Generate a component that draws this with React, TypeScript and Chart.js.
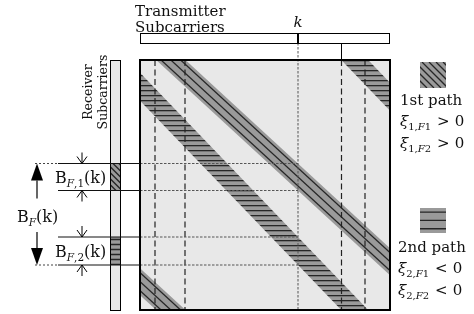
import React, { useEffect, useRef } from "react";
import { Chart, registerables } from "chart.js";

Chart.register(...registerables);

// ---------------- data ----------------
const N_SUBCARRIERS = 250; // transmitter / receiver subcarrier index range
const K_INDEX = 158; // transmitter subcarrier k
const PATH_LABELS = ["1st path", "2nd path"];
const PATH_SLOPES = [0.92, 1.04]; // receiver index shift per transmitter index
const PATH_CENTER_AT_K = [117, 191]; // receiver index at band centre for subcarrier k
const PATH_HALF_SPAN = [13.5, 14]; // half of B_F,i(k)
const PATH1_HATCH_OFFSETS = [-9, 0, 9];
const WRAP_SHIFTS = [-250, 0, 250]; // cyclic wrap on the receiver axis
const EDGE_MARKERS_TX = [15, 45, 201.5, 225]; // dashed transmitter indices
const XI_SUBSCRIPTS = [
  ["1,", "1"],
  ["1,", "2"],
  ["2,", "1"],
  ["2,", "2"],
];
const XI_RELATIONS = [">", ">", "<", "<"];
const U_EXTENT = [-10, 260];

// ---------------- styles ----------------
const SERIF = '"DejaVu Serif", serif';
const LIGHT = "#e8e8e8";
const BAND_GRAY = "#9a9a9a";
const HATCH = "#262626";

const F = (size: number, italic = false) => `${italic ? "italic " : ""}${size}px ${SERIF}`;

type Run = { t: string; f: string; dy?: number; dx?: number };
function drawRuns(ctx: CanvasRenderingContext2D, runs: Run[], x: number, y: number) {
  let cx = x;
  for (const r of runs) {
    cx += r.dx || 0;
    ctx.font = r.f;
    ctx.fillText(r.t, cx, y + (r.dy || 0));
    cx += ctx.measureText(r.t).width;
  }
  return cx;
}

function lineAt(path: number, offset: number, shift: number) {
  return U_EXTENT.map((u) => ({
    x: u,
    y: PATH_CENTER_AT_K[path] + PATH_SLOPES[path] * (u - K_INDEX) + offset + shift,
  }));
}

function hatchRect(
  ctx: CanvasRenderingContext2D,
  x: number,
  y: number,
  w: number,
  h: number,
  kind: "diag" | "horiz",
  step: number
) {
  ctx.save();
  ctx.beginPath();
  ctx.rect(x, y, w, h);
  ctx.clip();
  ctx.fillStyle = BAND_GRAY;
  ctx.fillRect(x, y, w, h);
  ctx.strokeStyle = HATCH;
  ctx.lineWidth = 1.3;
  ctx.beginPath();
  if (kind === "diag") {
    for (let d = -h; d < w + h; d += step) {
      ctx.moveTo(x + d, y);
      ctx.lineTo(x + d + h, y + h);
    }
  } else {
    for (let yy = y + step / 2; yy < y + h; yy += step) {
      ctx.moveTo(x, yy);
      ctx.lineTo(x + w, yy);
    }
  }
  ctx.stroke();
  ctx.restore();
}

function line(ctx: CanvasRenderingContext2D, x1: number, y1: number, x2: number, y2: number) {
  ctx.beginPath();
  ctx.moveTo(x1, y1);
  ctx.lineTo(x2, y2);
  ctx.stroke();
}

const diagramPlugin = {
  id: "diagram",
  beforeDatasetsDraw(chart: any) {
    const { ctx, chartArea: a } = chart;
    ctx.save();
    ctx.fillStyle = LIGHT;
    ctx.fillRect(a.left, a.top, a.right - a.left, a.bottom - a.top);
    ctx.restore();
  },
  afterDatasetsDraw(chart: any) {
    const { ctx, chartArea: a } = chart;
    const X = (u: number) => chart.scales.x.getPixelForValue(u);
    const Y = (v: number) => chart.scales.y.getPixelForValue(v);
    const levels = [
      PATH_CENTER_AT_K[0] - PATH_HALF_SPAN[0],
      PATH_CENTER_AT_K[0] + PATH_HALF_SPAN[0],
      PATH_CENTER_AT_K[1] - PATH_HALF_SPAN[1],
      PATH_CENTER_AT_K[1] + PATH_HALF_SPAN[1],
    ].map(Y);
    const xk = X(K_INDEX);
    const barTop = a.top - 27;
    const barBot = a.top - 17;
    const rxL = a.left - 30;
    const rxR = a.left - 20;

    ctx.save();
    // dashed transmitter markers
    ctx.strokeStyle = "#222";
    ctx.lineWidth = 1.2;
    ctx.setLineDash([6, 3.5]);
    for (const u of EDGE_MARKERS_TX) line(ctx, X(u), a.top, X(u), a.bottom);
    // k line
    ctx.strokeStyle = "#555";
    ctx.lineWidth = 1;
    ctx.setLineDash([2.5, 1.5]);
    line(ctx, xk, barBot, xk, a.bottom);
    // horizontal level lines inside the square
    for (const y of levels) line(ctx, a.left, y, xk, y);
    ctx.setLineDash([]);

    // square border
    ctx.strokeStyle = "#000";
    ctx.lineWidth = 2;
    ctx.strokeRect(a.left, a.top, a.right - a.left, a.bottom - a.top);

    // transmitter bar
    ctx.fillStyle = "#fff";
    ctx.fillRect(X(0), barTop, X(N_SUBCARRIERS) - X(0), barBot - barTop);
    ctx.lineWidth = 1;
    ctx.strokeRect(X(0) + 0.5, barTop + 0.5, X(N_SUBCARRIERS) - X(0) - 1, barBot - barTop);
    ctx.lineWidth = 2;
    line(ctx, xk, barTop, xk, barBot);
    ctx.lineWidth = 1;
    line(ctx, X(EDGE_MARKERS_TX[2]), barBot, X(EDGE_MARKERS_TX[2]), a.top);

    // receiver bar
    ctx.fillStyle = LIGHT;
    ctx.fillRect(rxL, Y(0), rxR - rxL, Y(N_SUBCARRIERS) - Y(0));
    hatchRect(ctx, rxL, levels[0], rxR - rxL, levels[1] - levels[0], "diag", 6);
    hatchRect(ctx, rxL, levels[2], rxR - rxL, levels[3] - levels[2], "horiz", 5);
    ctx.strokeStyle = "#000";
    ctx.lineWidth = 1;
    ctx.strokeRect(rxL + 0.5, Y(0) + 0.5, rxR - rxL, Y(N_SUBCARRIERS) - Y(0));

    // horizontal level lines outside
    ctx.strokeStyle = "#111";
    ctx.lineWidth = 1;
    for (const y of levels) line(ctx, 58, y, a.left, y);
    ctx.setLineDash([2, 2]);
    ctx.strokeStyle = "#444";
    line(ctx, 35, levels[0], 58, levels[0]);
    line(ctx, 35, levels[3], 58, levels[3]);
    ctx.setLineDash([]);

    // small bracket arrows
    ctx.strokeStyle = "#000";
    ctx.lineWidth = 1;
    const ax = 82;
    const small = (y: number, dir: number) => {
      line(ctx, ax, y - dir * 11, ax, y);
      ctx.beginPath();
      ctx.moveTo(ax - 5, y - dir * 7);
      ctx.lineTo(ax, y);
      ctx.lineTo(ax + 5, y - dir * 7);
      ctx.stroke();
    };
    small(levels[0], 1);
    small(levels[1], -1);
    small(levels[2], 1);
    small(levels[3], -1);

    // big arrow
    const bx = 37;
    ctx.fillStyle = "#000";
    ctx.lineWidth = 1.2;
    ctx.beginPath();
    ctx.moveTo(bx, levels[0]);
    ctx.lineTo(bx - 6, levels[0] + 17);
    ctx.lineTo(bx + 6, levels[0] + 17);
    ctx.closePath();
    ctx.fill();
    line(ctx, bx, levels[0] + 17, bx, levels[0] + 35);
    ctx.beginPath();
    ctx.moveTo(bx, levels[3]);
    ctx.lineTo(bx - 6, levels[3] - 17);
    ctx.lineTo(bx + 6, levels[3] - 17);
    ctx.closePath();
    ctx.fill();
    line(ctx, bx, levels[3] - 17, bx, levels[3] - 33);

    // texts
    ctx.fillStyle = "#111";
    ctx.textBaseline = "alphabetic";
    ctx.textAlign = "left";
    drawRuns(ctx, [{ t: "Transmitter", f: F(15) }], a.left - 5, 16);
    drawRuns(ctx, [{ t: "Subcarriers", f: F(15) }], a.left - 5, 32);
    ctx.font = F(15, true);
    ctx.textAlign = "center";
    ctx.fillText("k", xk, 27);

    // rotated receiver label
    ctx.save();
    ctx.translate(0, 92);
    ctx.rotate(-Math.PI / 2);
    ctx.font = F(12.5);
    ctx.fillText("Receiver", 0, 92);
    ctx.fillText("Subcarriers", 0, 107);
    ctx.restore();
    ctx.textAlign = "left";

    // B labels
    const bLabel = (sub: Run[], x: number, y: number) =>
      drawRuns(ctx, [{ t: "B", f: F(16) }, ...sub, { t: "(k)", f: F(16) }], x, y);
    bLabel(
      [
        { t: "F", f: F(10.5, true), dy: 4 },
        { t: ",1", f: F(10.5), dy: 4 },
      ],
      55,
      (levels[0] + levels[1]) / 2 + 6
    );
    bLabel(
      [
        { t: "F", f: F(10.5, true), dy: 4 },
        { t: ",2", f: F(10.5), dy: 4 },
      ],
      55,
      (levels[2] + levels[3]) / 2 + 6
    );
    bLabel([{ t: "F", f: F(10.5, true), dy: 4 }], 17, (levels[0] + levels[3]) / 2 + 8);

    // legend icons & conditions
    hatchRect(ctx, 420, 62, 26, 26, "diag", 7);
    hatchRect(ctx, 420, 208, 26, 25, "horiz", 8.3);
    ctx.fillStyle = "#111";
    const legendX = [400, 398];
    const legendY = [105, 252];
    PATH_LABELS.forEach((lbl, p) => {
      drawRuns(ctx, [{ t: lbl, f: F(15) }], legendX[p], legendY[p]);
      for (let j = 0; j < 2; j++) {
        const i = p * 2 + j;
        drawRuns(
          ctx,
          [
            { t: "ξ", f: F(15, true) },
            { t: XI_SUBSCRIPTS[i][0], f: F(10), dy: 4 },
            { t: "F", f: F(10, true), dy: 4 },
            { t: XI_SUBSCRIPTS[i][1], f: F(10), dy: 4 },
            { t: XI_RELATIONS[i], f: F(15), dx: 6 },
            { t: "0", f: F(15), dx: 5 },
          ],
          legendX[p],
          legendY[p] + 21 + j * 22
        );
      }
    });
    ctx.restore();
  },
};

export default function App() {
  const ref = useRef<HTMLCanvasElement | null>(null);
  useEffect(() => {
    const canvas = ref.current;
    if (!canvas) return;
    const pc = document.createElement("canvas");
    pc.width = 8;
    pc.height = 5;
    const pctx = pc.getContext("2d")!;
    pctx.fillStyle = BAND_GRAY;
    pctx.fillRect(0, 0, 8, 5);
    pctx.fillStyle = HATCH;
    pctx.fillRect(0, 0, 8, 1.3);
    const pattern = canvas.getContext("2d")!.createPattern(pc, "repeat")!;

    const transparent = "rgba(0,0,0,0)";
    const datasets: any[] = [];
    for (const shift of WRAP_SHIFTS) {
      datasets.push({
        data: lineAt(0, -PATH_HALF_SPAN[0], shift),
        borderColor: transparent,
        borderWidth: 0,
        fill: false,
        order: 5,
      });
      datasets.push({
        data: lineAt(0, PATH_HALF_SPAN[0], shift),
        borderColor: transparent,
        borderWidth: 0,
        fill: "-1",
        backgroundColor: BAND_GRAY,
        order: 5,
      });
      for (const off of PATH1_HATCH_OFFSETS) {
        datasets.push({
          data: lineAt(0, off, shift),
          borderColor: HATCH,
          borderWidth: 1.3,
          fill: false,
          order: 1,
        });
      }
      datasets.push({
        data: lineAt(1, -PATH_HALF_SPAN[1], shift),
        borderColor: transparent,
        borderWidth: 0,
        fill: false,
        order: 5,
      });
      datasets.push({
        data: lineAt(1, PATH_HALF_SPAN[1], shift),
        borderColor: transparent,
        borderWidth: 0,
        fill: "-1",
        backgroundColor: pattern,
        order: 5,
      });
    }

    const chart = new Chart(canvas, {
      type: "line",
      data: { datasets },
      options: {
        animation: false,
        responsive: false,
        devicePixelRatio: 1,
        events: [],
        layout: { padding: { left: 140, right: 84, top: 60, bottom: 4 } },
        elements: { point: { radius: 0 }, line: { tension: 0 } },
        scales: {
          x: { type: "linear", min: 0, max: N_SUBCARRIERS, display: false },
          y: { type: "linear", min: 0, max: N_SUBCARRIERS, reverse: true, display: false },
        },
        plugins: { legend: { display: false }, tooltip: { enabled: false } },
      },
      plugins: [diagramPlugin],
    } as any);
    return () => chart.destroy();
  }, []);
  return (
    <div style={{ position: "fixed", left: 0, top: 0, width: 474, height: 314, background: "#fff" }}>
      <canvas ref={ref} width={474} height={314} style={{ display: "block" }} />
    </div>
  );
}
